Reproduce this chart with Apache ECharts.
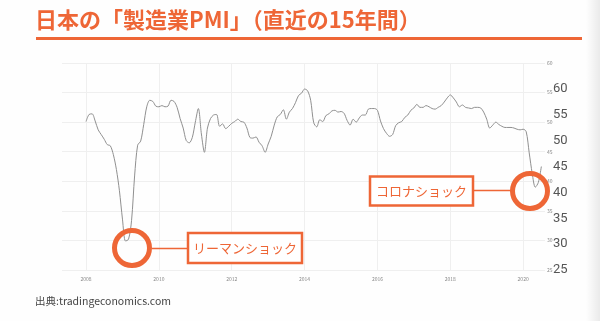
<!DOCTYPE html>
<html><head><meta charset="utf-8">
<script src="https://cdn.jsdelivr.net/npm/echarts@6/dist/echarts.min.js"></script>
<style>html,body{margin:0;padding:0;background:#fff}#c{width:600px;height:321px}</style>
</head><body><div id="c"></div>
<script>
// ---- data (monthly Japan manufacturing PMI, Jan 2008 .. Jul 2020) ----
const titleText = '日本の「製造業PMI」（直近の15年間）';
const sourceText = '出典:tradingeconomics.com';
const startYear = 2008;
const pmi = [
  50.1, 51.3, 51.4, 50.2, 48.7, 47.9, 47.1, 46.2, 46.0, 44.5, 42.0, 38.4,
  33.6, 29.9, 30.2, 33.4, 40.9, 46.1, 46.8, 49.6, 52.6, 53.7, 53.5, 52.7,
  52.6, 52.8, 52.6, 52.7, 53.7, 53.5, 52.5, 50.6, 49.0, 46.9, 46.5, 47.4,
  50.0, 52.3, 48.0, 44.9, 49.0, 50.6, 51.2, 51.3, 49.3, 49.7, 48.9, 49.3,
  49.8, 50.1, 50.5, 50.1, 50.0, 49.0, 47.4, 47.3, 47.5, 46.6, 46.0, 44.9,
  46.3, 47.6, 49.5, 50.9, 51.3, 52.1, 50.5, 51.7, 52.3, 53.3, 54.5, 54.9,
  55.6, 55.3, 53.7, 49.9, 49.2, 50.4, 50.1, 51.1, 51.4, 51.9, 52.0, 51.7,
  51.8, 51.5, 50.3, 49.5, 50.5, 50.0, 50.7, 51.2, 51.2, 52.2, 52.3, 52.3,
  52.0, 50.2, 48.9, 48.1, 47.6, 47.9, 49.4, 49.9, 50.1, 50.8, 51.2, 52.0,
  52.4, 53.0, 52.5, 52.5, 52.8, 52.6, 52.3, 52.2, 52.5, 52.8, 53.4, 54.1,
  54.6, 54.1, 53.4, 52.6, 52.9, 52.5, 52.4, 52.3, 52.5, 52.5, 52.4, 51.7,
  50.5, 49.0, 49.5, 50.0, 49.6, 49.3, 49.1, 49.1, 49.1, 49.0, 48.8, 48.7,
  48.8, 48.4, 44.8, 41.3, 39.0, 39.8, 42.5
];
const xTickYears = [2008, 2010, 2012, 2014, 2016, 2018, 2020];
const noteLehman = 'リーマンショック';
const noteCorona = 'コロナショック';

// ---- chart ----
const ORANGE = '#ee6636';
const seriesData = pmi.map((v, i) => [startYear + i / 12, v]);
const chart = echarts.init(document.getElementById('c'), null, {renderer: 'canvas'});

chart.setOption({
  backgroundColor: '#fefefe',
  animation: false,
  textStyle: {fontFamily: '"Noto Sans CJK JP", "Noto Sans", sans-serif'},
  grid: {left: 62, right: 55, top: 63, bottom: 51, containLabel: false},
  xAxis: {
    type: 'value', min: 2007.34, max: 2020.6,
    axisLine: {show: false},
    axisTick: {show: false, customValues: xTickYears},
    axisLabel: {customValues: xTickYears, formatter: v => String(Math.round(v)),
      fontSize: 5, color: '#888', margin: 7},
    splitLine: {show: true, lineStyle: {color: '#efefef', width: 1}}
  },
  yAxis: [{
    type: 'value', position: 'right', min: 25, max: 60, interval: 5,
    axisLine: {show: false}, axisTick: {show: false},
    axisLabel: {fontSize: 5, color: '#888', margin: 2},
    splitLine: {show: true, lineStyle: {color: '#efefef', width: 1}}
  }, {
    type: 'value', position: 'right', min: 25, max: 65, interval: 5,
    axisLine: {show: false}, axisTick: {show: false},
    axisLabel: {fontSize: 13, color: '#555', margin: 8, showMaxLabel: false,
      fontFamily: 'Roboto, "Noto Sans", sans-serif'},
    splitLine: {show: false}
  }],
  series: [{
    type: 'line', yAxisIndex: 0, data: seriesData, showSymbol: false,
    smooth: 0.3,
    lineStyle: {color: '#909090', width: 1}
  }],
  graphic: [
    {type: 'text', left: 35, top: 9, style: {text: titleText, fill: ORANGE,
      font: 'bold 22px "Noto Sans CJK JP"'}},
    {type: 'rect', shape: {x: 36, y: 37, width: 546, height: 3}, style: {fill: ORANGE}},
    {type: 'text', left: 35, top: 296, style: {text: sourceText, fill: '#444',
      font: '10.5px "Noto Sans CJK JP"'}},
    // Lehman annotation
    {type: 'circle', shape: {cx: 132, cy: 248, r: 17.5}, style: {fill: 'none', stroke: ORANGE, lineWidth: 5}, z: 10},
    {type: 'line', shape: {x1: 152, y1: 248.5, x2: 188, y2: 248.5}, style: {stroke: ORANGE, lineWidth: 1.5}, z: 10},
    {type: 'rect', shape: {x: 188, y: 233, width: 114, height: 30}, style: {fill: '#fff', stroke: ORANGE, lineWidth: 2.5}, z: 10},
    {type: 'text', x: 245, y: 248.5, style: {text: noteLehman, fill: ORANGE, align: 'center', verticalAlign: 'middle',
      font: '13px "Noto Sans CJK JP"'}, z: 11},
    // Corona annotation
    {type: 'circle', shape: {cx: 530, cy: 191, r: 17.5}, style: {fill: 'none', stroke: ORANGE, lineWidth: 5}, z: 10},
    {type: 'line', shape: {x1: 473, y1: 190.5, x2: 511, y2: 190.5}, style: {stroke: ORANGE, lineWidth: 1.5}, z: 10},
    {type: 'rect', shape: {x: 370, y: 176.5, width: 103, height: 29}, style: {fill: '#fff', stroke: ORANGE, lineWidth: 2.5}, z: 10},
    {type: 'text', x: 421.5, y: 191, style: {text: noteCorona, fill: ORANGE, align: 'center', verticalAlign: 'middle',
      font: '13px "Noto Sans CJK JP"'}, z: 11},
    // scan shadow on right edge
    {type: 'rect', shape: {x: 586, y: 0, width: 14, height: 321}, z: -1,
      style: {fill: new echarts.graphic.LinearGradient(0, 0, 1, 0, [
        {offset: 0, color: 'rgba(0,0,0,0)'}, {offset: 1, color: 'rgba(0,0,0,0.08)'}])}}
  ]
});
</script>
</body></html>
